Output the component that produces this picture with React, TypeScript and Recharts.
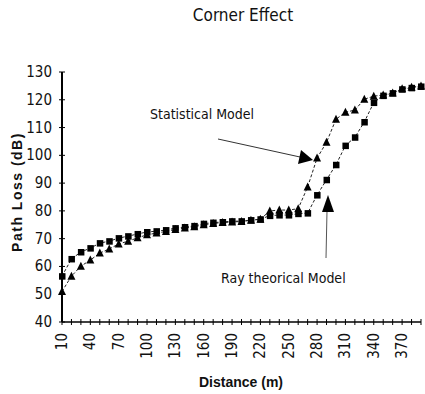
import React from 'react';
import { LineChart, Line, XAxis, YAxis } from 'recharts';

const distance = [
  10, 20, 30, 40, 50, 60, 70, 80, 90, 100, 110, 120, 130, 140, 150, 160, 170, 180, 190, 200,
  210, 220, 230, 240, 250, 260, 270, 280, 290, 300, 310, 320, 330, 340, 350, 360, 370, 380, 390,
];

// squares
const rayTheorical = [
  56.5, 62.7, 65.2, 66.6, 68.4, 69.1, 70.2, 70.9, 71.7, 72.4, 72.7, 73.1, 73.8, 74.2, 74.6, 75.4, 75.8, 76.0, 76.3, 76.3,
  76.7, 77.0, 78.3, 78.5, 78.5, 79.0, 79.2, 85.7, 91.2, 96.6, 103.5, 106.5, 112.0, 119.0, 121.5, 122.4, 123.8, 124.3, 124.8,
];

// triangles
const statistical = [
  51.0, 56.5, 60.1, 62.3, 64.8, 66.3, 68.1, 69.1, 70.3, 71.4, 72.0, 72.6, 73.3, 73.8, 74.3, 75.0, 75.5, 75.8, 76.0, 76.2,
  76.6, 77.0, 80.0, 80.3, 80.3, 80.8, 88.6, 99.0, 104.7, 113.0, 115.5, 116.3, 120.2, 121.3, 121.7, 122.4, 124.0, 124.5, 125.0,
];

const yTicks = [40, 50, 60, 70, 80, 90, 100, 110, 120, 130];
const xLabels = [10, 40, 70, 100, 130, 160, 190, 220, 250, 280, 310, 340, 370];

const data = distance.map((d, i) => ({ d, ray: rayTheorical[i], stat: statistical[i] }));

const NARROW = '"Liberation Sans Narrow", "DejaVu Sans Condensed", "Arial Narrow", sans-serif';
const SANS = '"Liberation Sans", Arial, sans-serif';

const Square = (props: any) => {
  const { cx, cy } = props;
  if (cx == null || cy == null) return null;
  return <rect x={cx - 3} y={cy - 3} width={6.5} height={6.5} fill="#000" />;
};

const Triangle = (props: any) => {
  const { cx, cy } = props;
  if (cx == null || cy == null) return null;
  return <polygon points={`${cx},${cy - 4.5} ${cx - 4},${cy + 3.5} ${cx + 4},${cy + 3.5}`} fill="#000" />;
};

const XTick = (props: any) => {
  const { x, y, payload } = props;
  const show = xLabels.includes(payload.value);
  return (
    <g>
      <line x1={x} x2={x} y1={y - 3} y2={y + 3} stroke="#000" strokeWidth={1} />
      {show && (
        <text
          transform={`translate(${x + 5},${y + 11}) rotate(-90)`}
          textAnchor="end"
          fontFamily={NARROW}
          fontSize={15}
          fill="#111"
        >
          {payload.value}
        </text>
      )}
    </g>
  );
};

const YTick = (props: any) => {
  const { x, y, payload } = props;
  return (
    <g>
      <line x1={x - 3} x2={x + 3} y1={y} y2={y} stroke="#000" strokeWidth={1} />
      <text x={x - 10} y={y + 5} textAnchor="end" fontFamily={NARROW} fontSize={15} fill="#111">
        {payload.value}
      </text>
    </g>
  );
};

const App = () => (
  <div style={{ position: 'absolute', left: 0, top: 0, width: 425, height: 394, background: '#fff' }}>
    <LineChart width={425} height={394} data={data} margin={{ top: 72, right: 4, left: 0, bottom: 0 }}>
      <XAxis
        dataKey="d"
        type="number"
        domain={[10, 390]}
        ticks={distance}
        interval={0}
        height={72}
        tickSize={0}
        tickMargin={0}
        tick={<XTick />}
        axisLine={{ stroke: '#000', strokeWidth: 1.5 }}
        tickLine={false}
      />
      <YAxis
        type="number"
        domain={[40, 130]}
        ticks={yTicks}
        interval={0}
        width={62}
        tickSize={0}
        tickMargin={0}
        tick={<YTick />}
        axisLine={{ stroke: '#000', strokeWidth: 2 }}
        tickLine={false}
      />
      <Line
        dataKey="ray"
        stroke="#222"
        strokeWidth={1}
        strokeDasharray="3 2"
        dot={<Square />}
        isAnimationActive={false}
      />
      <Line
        dataKey="stat"
        stroke="#222"
        strokeWidth={1}
        strokeDasharray="3 2"
        dot={<Triangle />}
        isAnimationActive={false}
      />
    </LineChart>
    <svg
      width={425}
      height={394}
      style={{ position: 'absolute', left: 0, top: 0, pointerEvents: 'none' }}
    >
      <text x={243} y={21} textAnchor="middle" fontFamily={NARROW} fontSize={17} fill="#111">
        Corner Effect
      </text>
      <text
        transform="translate(22,192) rotate(-90)"
        textAnchor="middle"
        fontFamily={SANS}
        fontWeight="bold"
        fontSize={14}
        letterSpacing={1.5}
        fill="#111"
      >
        Path Loss (dB)
      </text>
      <text x={241} y={387} textAnchor="middle" fontFamily={SANS} fontWeight="bold" fontSize={14} fill="#111">
        Distance (m)
      </text>
      <text x={150} y={119} fontFamily={NARROW} fontSize={14} fill="#111">
        Statistical Model
      </text>
      <line x1={218} y1={139} x2={300} y2={157} stroke="#333" strokeWidth={1} />
      <polygon points="313,160 298,164 301,150" fill="#000" />
      <text x={221} y={283} fontFamily={NARROW} fontSize={14} fill="#111">
        Ray theorical Model
      </text>
      <line x1={326} y1={258} x2={327} y2={211} stroke="#555" strokeWidth={1} />
      <polygon points="328,195 322,212 334,212" fill="#000" />
    </svg>
  </div>
);

export default App;
